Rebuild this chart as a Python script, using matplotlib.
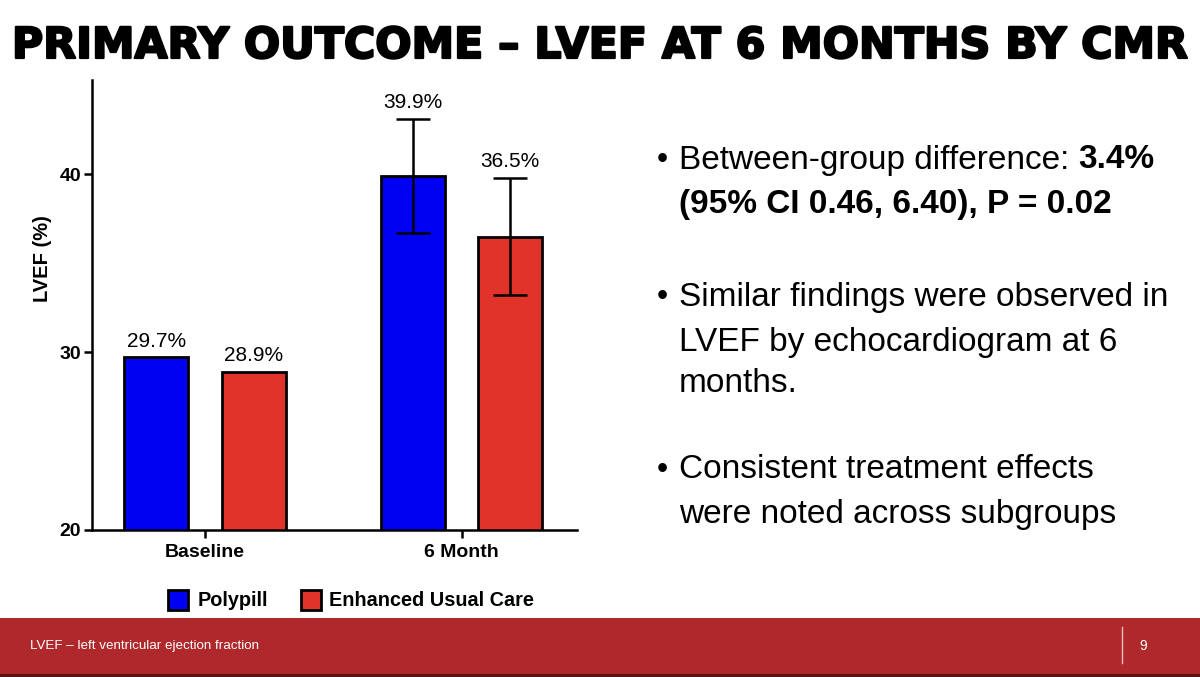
import matplotlib
matplotlib.use("Agg")
import matplotlib.pyplot as plt
import matplotlib.patheffects as pe
import numpy as np
from matplotlib.patches import Rectangle

# ---- data ----
timepoints = ["Baseline", "6 Month"]
series_names = ["Polypill", "Enhanced Usual Care"]
polypill = [29.7, 39.9]
usual_care = [28.9, 36.5]
polypill_err = [0.0, 3.2]
usual_care_err = [0.0, 3.3]
value_labels_polypill = ["29.7%", "39.9%"]
value_labels_usual = ["28.9%", "36.5%"]
y_ticks = [20, 30, 40]
title_text = "PRIMARY OUTCOME \u2013 LVEF AT 6 MONTHS BY CMR"
footer_text = "LVEF \u2013 left ventricular ejection fraction"
page_number = "9"

BLUE = "#0000F2"
RED = "#E2332A"
FOOT = "#AF282B"

W, H = 1200, 677
fig = plt.figure(figsize=(W / 100, H / 100), dpi=100)
fig.patch.set_facecolor("white")

def fx(px):
    return px / W

def fy(py):
    return 1 - py / H

# ---- chart ----
ax = fig.add_axes([fx(92), fy(530), fx(577) - fx(92), fy(80) - fy(530)])
x = np.arange(len(timepoints))
bw = 0.25
off = 0.19
ax.bar(x - off, polypill, bw, color=BLUE, edgecolor="black", linewidth=2.0, zorder=2)
ax.bar(x + off, usual_care, bw, color=RED, edgecolor="black", linewidth=2.0, zorder=2)
for i in range(len(x)):
    for xs, val, err in ((x[i] - off, polypill[i], polypill_err[i]),
                         (x[i] + off, usual_care[i], usual_care_err[i])):
        if err > 0:
            ax.errorbar(xs, val, yerr=err, fmt="none", ecolor="black",
                        elinewidth=1.8, capsize=12.5, capthick=1.8, zorder=3)
for i in range(len(x)):
    for xs, val, err, lab in ((x[i] - off, polypill[i], polypill_err[i], value_labels_polypill[i]),
                              (x[i] + off, usual_care[i], usual_care_err[i], value_labels_usual[i])):
        ax.annotate(lab, (xs, val + err), xytext=(0, 5), textcoords="offset points",
                    ha="center", va="bottom", fontsize=15, family="Liberation Sans")

ax.set_ylim(20, 45.3)
ax.set_xlim(-0.44, 1.45)
ax.set_yticks(y_ticks)
ax.set_xticks(x)
ax.set_xticklabels(timepoints)
for lab in ax.get_xticklabels() + ax.get_yticklabels():
    lab.set_fontfamily("Liberation Sans")
    lab.set_fontweight("bold")
    lab.set_fontsize(14)
ax.tick_params(axis="both", direction="out", length=6, width=1.8, pad=4)
ax.tick_params(axis="y", pad=2)
for s in ("top", "right"):
    ax.spines[s].set_visible(False)
for s in ("left", "bottom"):
    ax.spines[s].set_linewidth(1.8)
ax.set_facecolor("none")

fig.text(fx(43), fy(259), "LVEF (%)", rotation=90, ha="center", va="center",
         fontsize=14.5, fontweight="bold", family="Liberation Sans")

# ---- legend ----
for (px0, name, col, tx) in ((168, series_names[0], BLUE, 198), (301, series_names[1], RED, 329)):
    fig.patches.append(Rectangle((fx(px0), fy(610)), fx(20), fy(590) - fy(610),
                                 transform=fig.transFigure, facecolor=col,
                                 edgecolor="black", linewidth=2.0))
    fig.text(fx(tx), fy(600), name, ha="left", va="center", fontsize=14.3,
             fontweight="bold", family="Liberation Sans")

# ---- title ----
t = fig.text(fx(600), fy(46), title_text, ha="center", va="center",
             fontsize=33, fontweight="bold", family="DejaVu Sans",
             path_effects=[pe.withStroke(linewidth=1.6, foreground="black")])
fig.canvas.draw()
bb = t.get_window_extent()
t.set_fontsize(33 * 1178 / bb.width)

# ---- bullets ----
bfs = 24
lines = [
    (160, [("Between-group difference: ", "normal"), ("3.4%", "bold")], True),
    (205, [("(95% CI 0.46, 6.40), P = 0.02", "bold")], False),
    (297, [("Similar findings were observed in", "normal")], True),
    (342, [("LVEF by echocardiogram at 6", "normal")], False),
    (384, [("months.", "normal")], False),
    (470, [("Consistent treatment effects", "normal")], True),
    (515, [("were noted across subgroups", "normal")], False),
]
renderer = fig.canvas.get_renderer()
for py, parts, bullet in lines:
    if bullet:
        fig.text(fx(662), fy(py), "\u2022", ha="center", va="center", fontsize=23,
                 family="Liberation Sans")
    xpos = fx(679)
    for txt, wt in parts:
        tt = fig.text(xpos, fy(py), txt, ha="left", va="center", fontsize=bfs,
                      fontweight=wt, family="Liberation Sans")
        w = tt.get_window_extent(renderer).width
        xpos += w / W

# ---- footer ----
fig.patches.append(Rectangle((0, 0), 1, fy(618), transform=fig.transFigure,
                             facecolor=FOOT, edgecolor="none"))
fig.patches.append(Rectangle((0, fy(677)), 1, fy(674) - fy(677), transform=fig.transFigure,
                             facecolor="#5a1214", edgecolor="none"))
fig.text(fx(30), fy(646), footer_text, ha="left", va="center", fontsize=9.6,
         color="white", family="Liberation Sans")
fig.add_artist(plt.Line2D([fx(1122), fx(1122)], [fy(627), fy(663)],
                          transform=fig.transFigure, color="#f2c0c0", linewidth=1))
fig.text(fx(1143), fy(646), page_number, ha="center", va="center", fontsize=10,
         color="white", family="Liberation Sans")

fig.savefig("out.png", dpi=100)
